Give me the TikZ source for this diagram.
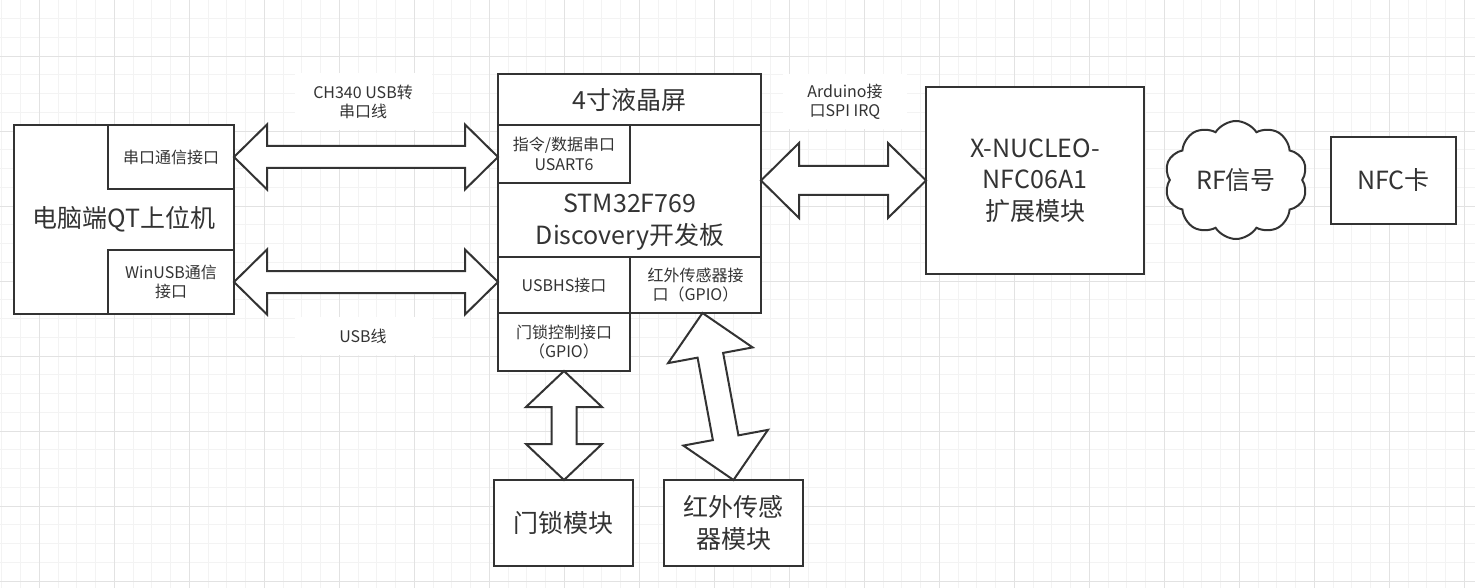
\documentclass[tikz,border=0pt]{standalone}
\usepackage{fontspec}
\setmainfont{Noto Sans CJK SC}
\usetikzlibrary{calc,shapes.symbols}
\definecolor{ln}{HTML}{333333}
\definecolor{tx}{HTML}{333333}
\definecolor{gmin}{HTML}{F3F3F3}
\definecolor{gmaj}{HTML}{E2E2E2}
\newcommand\dblarrow[5]{%
  \draw[arr] (#1) -- ($(#1)!#3!(#2)!#4!90:(#2)$) -- ($(#1)!#3!(#2)!#5!90:(#2)$)
    -- ($(#2)!#3!(#1)!#5!-90:(#1)$) -- ($(#2)!#3!(#1)!#4!-90:(#1)$) -- (#2)
    -- ($(#2)!#3!(#1)!#4!90:(#1)$) -- ($(#2)!#3!(#1)!#5!90:(#1)$)
    -- ($(#1)!#3!(#2)!#5!-90:(#2)$) -- ($(#1)!#3!(#2)!#4!-90:(#2)$) -- cycle;}
\tikzset{
  box/.style={draw=ln, line width=2pt, rectangle, outer sep=0pt, inner sep=2pt, align=center, text=tx},
  thickbox/.style={box, line width=2.8pt},
  small/.style={font=\fontsize{16}{19.5}\selectfont},
  big/.style={font=\fontsize{25}{31.5}\selectfont},
  lab/.style={fill=white, text=tx, align=center, inner sep=0pt, font=\fontsize{16}{19.5}\selectfont},
  arr/.style={draw=ln, line width=2pt, fill=white, line join=miter},
}
\begin{document}
\begin{tikzpicture}[x=1pt,y=-1pt]
\useasboundingbox (0,0) rectangle (1475,588);
\fill[white] (0,0) rectangle (1475,588);
% grid
\foreach \i in {0,...,78} \draw[gmin, line width=0.8pt] ({1.8+\i*18.75},0) -- ({1.8+\i*18.75},588);
\foreach \j in {0,...,31} \draw[gmin, line width=0.8pt] (0,{-0.25+\j*18.75}) -- (1475,{-0.25+\j*18.75});
\foreach \i in {0,...,19} \draw[gmaj, line width=0.9pt] ({39.3+\i*75},0) -- ({39.3+\i*75},588);
\foreach \j in {0,...,7} \draw[gmaj, line width=0.9pt] (0,{56+\j*75}) -- (1475,{56+\j*75});

% edge labels
\node[lab, minimum width=137pt, minimum height=57pt] (l1) at (363,102) {CH340 USB转\\串口线};
\node[lab, minimum width=137pt, minimum height=38pt] (l2) at (363,336) {USB线};
\node[lab, minimum width=124pt, minimum height=55pt] (l3) at (845,102) {Arduino接\\口SPI IRQ};

% PC side
\node[box, big, fill=white, minimum width=220pt, minimum height=189pt] (pc) at (124,219.5) {电脑端QT上位机};
\node[box, small, minimum width=126pt, minimum height=64pt] (s1) at (171,157) {串口通信接口};
\node[box, small, minimum width=126pt, minimum height=64pt] (s2) at (171,282) {WinUSB通信\\接口};

% MCU board
\node[box, big, fill=white, minimum width=263pt, minimum height=51pt] (lcd) at (629.5,99.5) {4寸液晶屏};
\node[box, fill=white, minimum width=263pt, minimum height=132pt] (body) at (629.5,191) {};
\node[big, text=tx, align=center, inner sep=0pt] (mcu) at (630,222) {STM32F769\\Discovery开发板};
\node[thickbox, small, minimum width=132pt, minimum height=58pt] (usart) at (564,154) {指令/数据串口\\USART6};
\node[thickbox, small, fill=white, minimum width=132pt, minimum height=56pt] (usbhs) at (564,285) {USBHS接口};
\node[thickbox, small, fill=white, minimum width=131pt, minimum height=56pt] (irif) at (695.5,285) {红外传感器接\\口（GPIO）};
\node[thickbox, small, fill=white, minimum width=132pt, minimum height=58pt] (lock) at (564,342) {门锁控制接口\\（GPIO）};

% right side
\node[box, big, fill=white, minimum width=218pt, minimum height=187pt] (nuc) at (1035,180.5) {X-NUCLEO-\\NFC06A1\\扩展模块};
\node[cloud, draw=ln, line width=2pt, fill=white, cloud puffs=10, cloud puff arc=115, aspect=1.2,
      minimum width=143pt, minimum height=118pt, inner sep=0pt, outer sep=0pt, text=tx, big] (rf) at (1236,180) {RF信号};
\node[box, big, fill=white, minimum width=125pt, minimum height=87pt] (nfc) at (1393.5,180.5) {NFC卡};

% bottom modules
\node[box, big, fill=white, minimum width=139pt, minimum height=86pt] (door) at (563.5,523) {门锁模块};
\node[box, big, fill=white, minimum width=139pt, minimum height=86pt] (irm) at (733.5,523) {红外传感\\器模块};

% connectors
\coordinate (a1) at (s1.east);
\coordinate (b1) at (s1.east -| usart.west);
\coordinate (a2) at (s2.east);
\coordinate (b2) at (s2.east -| usbhs.west);
\coordinate (a3) at (nuc.west -| body.east);
\coordinate (b3) at (nuc.west);
\coordinate (a4) at (lock.south);
\coordinate (b4) at (lock.south |- door.north);
\coordinate (a5) at ($(irif.south)+(7,0)$);
\coordinate (b5) at (irm.north);
\dblarrow{a1}{b1}{33pt}{32.5pt}{11pt}
\dblarrow{a2}{b2}{33pt}{32.5pt}{11pt}
\dblarrow{a3}{b3}{38pt}{37.5pt}{14.5pt}
\dblarrow{a4}{b4}{36pt}{38pt}{12.5pt}
\dblarrow{a5}{b5}{43pt}{43pt}{13pt}
\end{tikzpicture}
\end{document}
